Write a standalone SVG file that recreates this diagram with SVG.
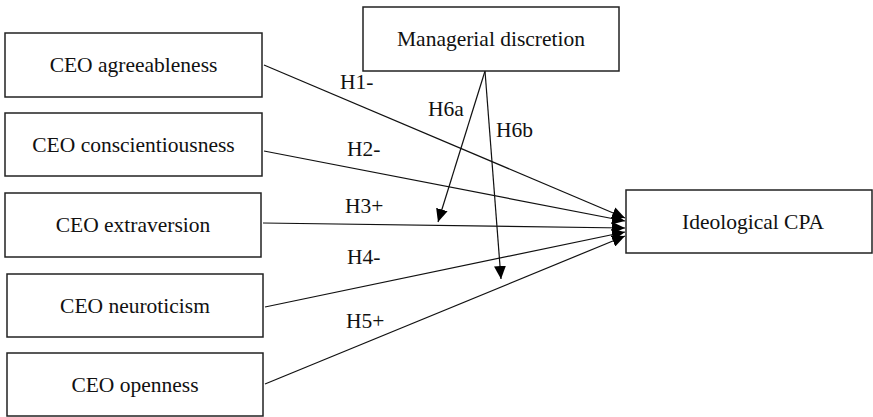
<svg xmlns="http://www.w3.org/2000/svg" width="873" height="417" viewBox="0 0 873 417">
<defs>
<style>
.box{fill:#fff;stroke:#222;stroke-width:1.5}
.t{font-family:"Liberation Serif","Times New Roman",serif;font-size:21.5px;fill:#111}
.c{text-anchor:middle}
.ln{stroke:#111;stroke-width:1.2;fill:none}
</style>
<marker id="ah" markerUnits="userSpaceOnUse" markerWidth="14" markerHeight="12" refX="13" refY="6" orient="auto">
<path d="M0,0 L13,6 L0,12 Z" fill="#000"/>
</marker>
</defs>
<g id="connectors">
<line class="ln" x1="264" y1="65" x2="625" y2="218" marker-end="url(#ah)"/>
<line class="ln" x1="264" y1="151" x2="625" y2="221" marker-end="url(#ah)"/>
<line class="ln" x1="263" y1="223" x2="625" y2="228" marker-end="url(#ah)"/>
<line class="ln" x1="265" y1="307" x2="625" y2="232" marker-end="url(#ah)"/>
<line class="ln" x1="265" y1="384" x2="625" y2="236" marker-end="url(#ah)"/>
<line class="ln" x1="485" y1="71" x2="438" y2="222" marker-end="url(#ah)"/>
<line class="ln" x1="485" y1="71" x2="501" y2="279" marker-end="url(#ah)"/>
</g>
<g id="labels">
<text class="t" x="340" y="89">H1-</text>
<text class="t" x="428" y="116">H6a</text>
<text class="t" x="496" y="137">H6b</text>
<text class="t" x="347" y="156">H2-</text>
<text class="t" x="345" y="213">H3+</text>
<text class="t" x="347" y="264">H4-</text>
<text class="t" x="346" y="328">H5+</text>
</g>
<g id="n-agree"><rect class="box" x="5" y="33" width="257" height="64"/><text class="t c" x="133.5" y="72">CEO agreeableness</text></g>
<g id="n-consc"><rect class="box" x="5" y="113" width="257" height="63"/><text class="t c" x="133.5" y="152">CEO conscientiousness</text></g>
<g id="n-extra"><rect class="box" x="5" y="193" width="256" height="64"/><text class="t c" x="133" y="232">CEO extraversion</text></g>
<g id="n-neuro"><rect class="box" x="7" y="274" width="256" height="63"/><text class="t c" x="135" y="313">CEO neuroticism</text></g>
<g id="n-open"><rect class="box" x="7" y="353" width="256" height="63"/><text class="t c" x="135" y="392">CEO openness</text></g>
<g id="n-md"><rect class="box" x="363" y="7" width="256" height="64"/><text class="t c" x="491" y="46">Managerial discretion</text></g>
<g id="n-cpa"><rect class="box" x="626" y="190" width="246" height="63"/><text class="t c" x="753" y="229">Ideological CPA</text></g>
</svg>
